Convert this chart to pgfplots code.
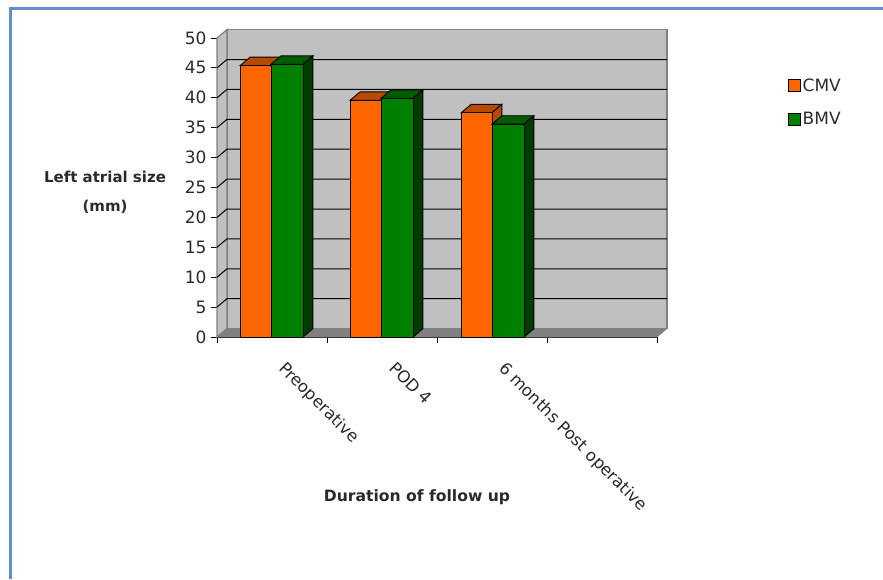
\documentclass[border=0pt]{standalone}
\usepackage{pgfplots}
\pgfplotsset{compat=1.18}
\usepackage{pgfplotstable}
\usepackage{fontspec}
\setmainfont{DejaVu Sans}
\definecolor{cmv}{HTML}{FF6600}
\definecolor{cmvtop}{HTML}{B84A00}
\definecolor{bmv}{HTML}{008000}
\definecolor{bmvtop}{HTML}{005C00}
\definecolor{bmvside}{HTML}{003C00}
\definecolor{wall}{HTML}{C0C0C0}
\definecolor{wallfloor}{HTML}{808080}
\definecolor{frameblue}{HTML}{5F8FCB}
\definecolor{inktext}{HTML}{2A2A2A}

% Left atrial size (mm) at each follow-up stage
\pgfplotstableread{
x      cmv   bmv
0.491  45.4  45.6
1.491  39.6  39.9
2.500  37.5  35.6
}\atrialdata

% Top and side faces of a bar: left edge, right edge, value, colours
\newcommand{\barfaces}[5]{%
  \addplot[forget plot, fill=#4, draw=black, line width=0.9pt]
    coordinates {(#1,#3)(#2,#3)(#2+0.09,#3+1.4)(#1+0.09,#3+1.4)} --cycle;
  \addplot[forget plot, fill=#5, draw=black, line width=0.9pt]
    coordinates {(#2,0)(#2,#3)(#2+0.09,#3+1.4)(#2+0.09,1.4)} --cycle;
}

\begin{document}
\begin{tikzpicture}[x=1pt,y=1pt]
\useasboundingbox (0,0) rectangle (883,-579);
\draw[frameblue, line width=2.6pt] (10.3,-579) -- (10.3,-8.6) -- (883,-8.6);

\begin{axis}[
  at={(217pt,-337pt)}, anchor=origin,
  scale only axis, width=440pt, height=299pt,
  xmin=0, xmax=4, ymin=0, ymax=50,
  clip=false,
  axis x line*=bottom, axis y line*=left,
  axis line style={black, line width=0.9pt},
  xtick={0,1,2,3,4},
  x tick label as interval,
  xticklabels={Preoperative,POD 4,6 months Post operative,{}},
  x tick label style={rotate=-45, anchor=north west, font=\fontsize{16.5}{18}\selectfont, text=inktext, xshift=19.3pt, yshift=1.8pt},
  ytick={0,5,...,50},
  y tick label style={font=\fontsize{17}{18}\selectfont, text=inktext, xshift=-1pt},
  /pgf/number format/assume math mode=true,
  tick style={black, line width=0.9pt},
  major tick length=6pt,
  tick align=outside,
  xtick pos=bottom, ytick pos=left,
  legend style={
    at={(1.297,0.872)}, anchor=north west, draw=none, fill=none,
    font=\fontsize{17}{18}\selectfont, text=inktext,
    row sep=16pt, inner sep=0pt,
    /tikz/every even column/.append style={column sep=11pt},
  },
  legend cell align=left,
  legend image code/.code={\draw[#1, draw=black, line width=0.8pt] (0pt,-5.5pt) rectangle (12pt,6.5pt);},
]
% chart box: back wall, side wall and floor
\addplot[forget plot, fill=wall, draw=wallfloor, line width=1.2pt]
  coordinates {(0.09,1.4)(4.09,1.4)(4.09,51.4)(0.09,51.4)} --cycle;
\addplot[forget plot, fill=wall, draw=wallfloor, line width=1.2pt]
  coordinates {(0,0)(0.09,1.4)(0.09,51.4)(0,50)} --cycle;
\addplot[forget plot, fill=wallfloor, draw=wallfloor, line width=0.6pt]
  coordinates {(0,0)(0.09,1.4)(4.09,1.4)(4,0)} --cycle;
% gridlines running along the side wall and back wall
\pgfplotsinvokeforeach{5,10,...,45}{
  \addplot[forget plot, black, line width=1pt]
    coordinates {(0,#1)(0.09,#1+1.4)(4.09,#1+1.4)};
}
% CMV bars
\barfaces{0.211}{0.491}{45.4}{cmvtop}{cmvtop}
\barfaces{1.211}{1.491}{39.6}{cmvtop}{cmvtop}
\barfaces{2.220}{2.500}{37.5}{cmvtop}{cmvtop}
\addplot[ybar, bar width=0.28, bar shift=-0.14, fill=cmv, draw=black, line width=0.9pt]
  table[x=x, y=cmv] {\atrialdata};
\addlegendentry{CMV}
% BMV bars
\barfaces{0.491}{0.782}{45.6}{bmvtop}{bmvside}
\barfaces{1.491}{1.782}{39.9}{bmvtop}{bmvside}
\barfaces{2.500}{2.791}{35.6}{bmvtop}{bmvside}
\addplot[ybar, bar width=0.291, bar shift=0.1455, fill=bmv, draw=black, line width=0.9pt]
  table[x=x, y=bmv] {\atrialdata};
\addlegendentry{BMV}
\end{axis}

% axis titles
\node[font=\fontsize{15}{29}\selectfont\bfseries, text=inktext, align=center] at (105,-192) {Left atrial size\\(mm)};
\node[font=\fontsize{15.6}{18}\selectfont\bfseries, text=inktext] at (417,-497) {Duration of follow up};
\end{tikzpicture}
\end{document}
